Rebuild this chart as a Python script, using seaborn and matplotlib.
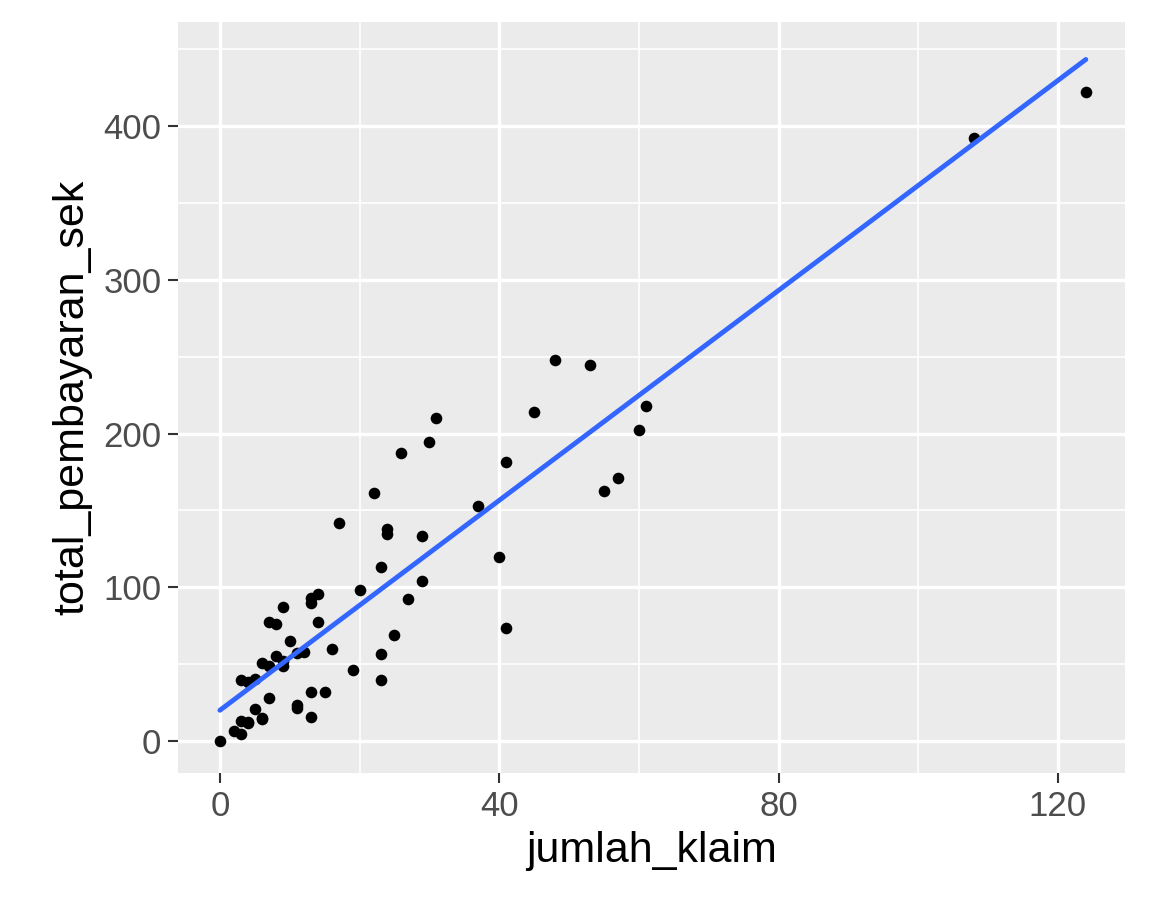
import matplotlib
matplotlib.use("Agg")
import matplotlib.pyplot as plt
import seaborn as sns
import pandas as pd

jumlah_klaim = [108,19,13,124,40,57,23,14,45,10,5,48,11,23,7,2,24,6,3,23,6,9,9,3,29,7,4,20,7,4,0,25,6,5,22,11,61,12,4,16,13,60,41,37,55,41,11,27,8,3,17,13,13,15,8,29,30,24,9,31,14,53,26]
total_pembayaran_sek = [392.5,46.2,15.7,422.2,119.4,170.9,56.9,77.5,214,65.3,20.9,248.1,23.5,39.6,48.8,6.6,134.9,50.9,4.4,113,14.8,48.7,52.1,13.2,103.9,77.5,11.8,98.1,27.9,38.1,0,69.2,14.6,40.3,161.5,57.2,217.6,58.1,12.6,59.6,89.9,202.4,181.3,152.8,162.8,73.4,21.3,92.6,76.1,39.9,142.1,93,31.9,32.1,55.6,133.3,194.5,137.9,87.4,209.8,95.5,244.6,187.5]
df = pd.DataFrame({"jumlah_klaim": jumlah_klaim, "total_pembayaran_sek": total_pembayaran_sek})

sns.set_theme(style="darkgrid", rc={"axes.facecolor": "#EBEBEB", "grid.color": "white"})
plt.rcParams['font.family'] = ['Liberation Sans', 'DejaVu Sans']
fig = plt.figure(figsize=(11.52, 9.22), dpi=100)
ax = fig.add_axes([0.1545, 0.1616, 0.822, 0.8144])
sns.regplot(data=df, x="jumlah_klaim", y="total_pembayaran_sek", ci=None, ax=ax,
            scatter_kws=dict(color="black", s=70, alpha=1, linewidths=0),
            line_kws=dict(color="#3366FF", lw=3.5))
ax.set_xlim(-6.0, 129.6)
ax.set_ylim(-20.8, 467.6)
ax.set_xticks([0, 40, 80, 120])
ax.set_yticks([0, 100, 200, 300, 400])
ax.set_xticks([20, 60, 100], minor=True)
ax.set_yticks([50, 150, 250, 350, 450], minor=True)
ax.grid(which="major", color="white", lw=2.4)
ax.grid(which="minor", color="white", lw=1.2)
for s in ax.spines.values():
    s.set_visible(False)
ax.tick_params(which="major", length=7, width=1.5, color="#333333", labelsize=25, labelcolor="#4D4D4D", direction="out", bottom=True, left=True, pad=5)
ax.tick_params(which="minor", length=0)
ax.set_xlabel("jumlah_klaim", fontsize=31, color="black", labelpad=6)
ax.set_ylabel("total_pembayaran_sek", fontsize=31, color="black", labelpad=8)
fig.savefig("out.png", dpi=100)
